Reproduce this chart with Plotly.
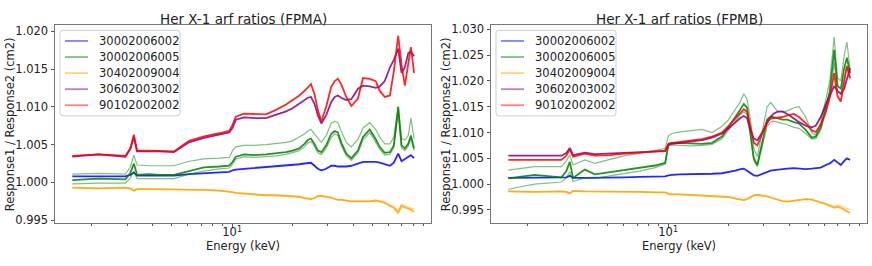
import plotly.graph_objects as go

ENERGY = [1.6, 2.16, 2.94, 3.11, 3.24, 3.36, 3.85, 4.32, 5.13, 6.10,
          7.24, 8.61, 9.66, 10.04, 10.43, 11.48, 12.88, 14.73, 16.53, 18.55,
          20.0, 21.6, 22.9, 23.8, 24.7, 25.7, 26.7, 27.8, 29.4, 31.1,
          32.4, 33.6, 34.9, 37.0, 39.2, 42.3, 44.8, 48.4, 51.9, 54.3,
          57.5, 61.0, 63.8, 67.1, 69.7, 72.4, 75.3, 77.6, 80.5]

OBSIDS = ["30002006002", "30002006005", "30402009004", "30602003002", "90102002002"]
COLORS = {"30002006002": (0, 0, 255), "30002006005": (0, 128, 0),
          "30402009004": (255, 165, 0), "30602003002": (128, 0, 128),
          "90102002002": (255, 0, 0)}

# ---------------- FPMA ----------------
A_BLUE = [1.0008, 1.0008, 1.0008, 1.0010, 1.0013, 1.0009, 1.0009, 1.0009, 1.0009, 1.0011,
          1.0012, 1.0013, 1.0014, 1.0016, 1.0017, 1.0018, 1.0019, 1.0020, 1.0021, 1.0022,
          1.0023, 1.0024, 1.0025, 1.0026, 1.0026, 1.0022, 1.0018, 1.0016, 1.0018, 1.0022,
          1.0022, 1.0021, 1.0021, 1.0021, 1.0022, 1.0025, 1.0027, 1.0027, 1.0027, 1.0026,
          1.0024, 1.0022, 1.0026, 1.0038, 1.0028, 1.0031, 1.0034, 1.0036, 1.0032]
A_ORANGE = [0.9993, 0.9992, 0.9993, 0.9992, 0.9989, 0.9991, 0.9991, 0.9991, 0.9991, 0.9991,
            0.9990, 0.9989, 0.9988, 0.9987, 0.9986, 0.9985, 0.9984, 0.9983, 0.9983, 0.9982,
            0.9982, 0.9981, 0.9979, 0.9978, 0.9978, 0.9979, 0.9982, 0.9982, 0.9981, 0.9980,
            0.9978, 0.9977, 0.9977, 0.9976, 0.9975, 0.9975, 0.9975, 0.9975, 0.9976, 0.9975,
            0.9973, 0.9969, 0.9966, 0.9960, 0.9969, 0.9967, 0.9965, 0.9964, 0.9961]
A_ORANGE_2 = [0.9993, 0.9992, 0.9993, 0.9992, 0.9989, 0.9991, 0.9991, 0.9991, 0.9991, 0.9991,
              0.9990, 0.9989, 0.9988, 0.9987, 0.9986, 0.9985, 0.9984, 0.9983, 0.9983, 0.9982,
              0.9982, 0.9981, 0.9979, 0.9978, 0.9978, 0.9979, 0.9982, 0.9982, 0.9981, 0.9980,
              0.9978, 0.9977, 0.9977, 0.9976, 0.9975, 0.9975, 0.9975, 0.9975, 0.9976, 0.9975,
              0.9974, 0.9970, 0.9968, 0.9963, 0.9971, 0.9969, 0.9967, 0.9966, 0.9965]
A_RED = [1.0035, 1.0037, 1.0035, 1.0045, 1.0063, 1.0042, 1.0042, 1.0042, 1.0041, 1.0055,
         1.0061, 1.0065, 1.0068, 1.0076, 1.0087, 1.0091, 1.0091, 1.0090, 1.0096, 1.0103,
         1.0109, 1.0115, 1.0121, 1.0126, 1.0130, 1.0117, 1.0096, 1.0081, 1.0100, 1.0126,
         1.0134, 1.0137, 1.0130, 1.0113, 1.0101, 1.0111, 1.0138, 1.0137, 1.0134, 1.0121,
         1.0113, 1.0115, 1.0147, 1.0194, 1.0156, 1.0128, 1.0160, 1.0179, 1.0145]
A_PURPLE = [1.0034, 1.0037, 1.0034, 1.0044, 1.0060, 1.0041, 1.0041, 1.0041, 1.0040, 1.0053,
            1.0059, 1.0063, 1.0066, 1.0072, 1.0083, 1.0086, 1.0085, 1.0085, 1.0089, 1.0094,
            1.0098, 1.0104, 1.0109, 1.0112, 1.0113, 1.0104, 1.0089, 1.0078, 1.0089, 1.0106,
            1.0113, 1.0115, 1.0112, 1.0109, 1.0110, 1.0124, 1.0128, 1.0127, 1.0125, 1.0127,
            1.0134, 1.0152, 1.0162, 1.0177, 1.0145, 1.0152, 1.0171, 1.0173, 1.0167]
A_GREEN = [1.0003, 1.0005, 1.0004, 1.0012, 1.0025, 1.0010, 1.0011, 1.0010, 1.0010, 1.0015,
           1.0020, 1.0021, 1.0022, 1.0027, 1.0034, 1.0037, 1.0036, 1.0037, 1.0038, 1.0040,
           1.0042, 1.0045, 1.0051, 1.0056, 1.0058, 1.0051, 1.0042, 1.0040, 1.0049, 1.0064,
           1.0068, 1.0066, 1.0053, 1.0038, 1.0032, 1.0042, 1.0060, 1.0070, 1.0057, 1.0047,
           1.0039, 1.0040, 1.0049, 1.0100, 1.0049, 1.0045, 1.0051, 1.0062, 1.0045]
A_GREEN_HI = [1.0011, 1.0012, 1.0011, 1.0020, 1.0036, 1.0023, 1.0022, 1.0022, 1.0022, 1.0028,
              1.0031, 1.0032, 1.0033, 1.0042, 1.0047, 1.0049, 1.0049, 1.0050, 1.0051, 1.0053,
              1.0055, 1.0060, 1.0064, 1.0068, 1.0070, 1.0064, 1.0058, 1.0053, 1.0062, 1.0078,
              1.0081, 1.0079, 1.0068, 1.0053, 1.0047, 1.0057, 1.0072, 1.0079, 1.0070, 1.0060,
              1.0051, 1.0051, 1.0060, 1.0100, 1.0058, 1.0056, 1.0062, 1.0085, 1.0058]
A_GREEN_LO = [0.9998, 0.9999, 0.9999, 1.0006, 1.0015, 1.0005, 1.0005, 1.0005, 1.0005, 1.0011,
              1.0015, 1.0018, 1.0019, 1.0024, 1.0031, 1.0034, 1.0033, 1.0034, 1.0035, 1.0037,
              1.0039, 1.0042, 1.0047, 1.0052, 1.0054, 1.0048, 1.0039, 1.0037, 1.0045, 1.0059,
              1.0064, 1.0062, 1.0049, 1.0035, 1.0029, 1.0039, 1.0056, 1.0066, 1.0053, 1.0044,
              1.0036, 1.0037, 1.0046, 1.0092, 1.0046, 1.0042, 1.0048, 1.0058, 1.0042]

# ---------------- FPMB ----------------
B_BLUE = [1.0012, 1.0012, 1.0012, 1.0013, 1.0016, 1.0012, 1.0012, 1.0012, 1.0013, 1.0013,
          1.0014, 1.0014, 1.0015, 1.0017, 1.0018, 1.0019, 1.0019, 1.0020, 1.0020, 1.0021,
          1.0023, 1.0026, 1.0029, 1.0030, 1.0026, 1.0021, 1.0017, 1.0016, 1.0020, 1.0024,
          1.0026, 1.0027, 1.0028, 1.0029, 1.0030, 1.0031, 1.0030, 1.0029, 1.0030, 1.0031,
          1.0032, 1.0037, 1.0040, 1.0047, 1.0042, 1.0037, 1.0045, 1.0050, 1.0047]
B_ORANGE = [0.9986, 0.9985, 0.9986, 0.9985, 0.9982, 0.9987, 0.9986, 0.9986, 0.9985, 0.9985,
            0.9985, 0.9984, 0.9984, 0.9981, 0.9980, 0.9980, 0.9979, 0.9979, 0.9978, 0.9976,
            0.9975, 0.9972, 0.9970, 0.9969, 0.9971, 0.9975, 0.9978, 0.9979, 0.9978, 0.9976,
            0.9974, 0.9972, 0.9970, 0.9967, 0.9966, 0.9968, 0.9970, 0.9971, 0.9970, 0.9968,
            0.9964, 0.9961, 0.9958, 0.9954, 0.9956, 0.9954, 0.9950, 0.9947, 0.9944]
B_ORANGE_2 = [0.9986, 0.9985, 0.9986, 0.9985, 0.9982, 0.9987, 0.9986, 0.9986, 0.9985, 0.9985,
              0.9985, 0.9984, 0.9984, 0.9981, 0.9980, 0.9980, 0.9979, 0.9979, 0.9978, 0.9976,
              0.9975, 0.9972, 0.9970, 0.9969, 0.9971, 0.9975, 0.9978, 0.9979, 0.9978, 0.9976,
              0.9974, 0.9972, 0.9970, 0.9967, 0.9966, 0.9968, 0.9970, 0.9971, 0.9970, 0.9968,
              0.9965, 0.9962, 0.9960, 0.9957, 0.9959, 0.9957, 0.9954, 0.9952, 0.9950]
B_RED = [1.0047, 1.0047, 1.0047, 1.0055, 1.0068, 1.0053, 1.0059, 1.0055, 1.0056, 1.0059,
         1.0061, 1.0063, 1.0065, 1.0078, 1.0080, 1.0082, 1.0084, 1.0087, 1.0092, 1.0100,
         1.0113, 1.0127, 1.0138, 1.0145, 1.0140, 1.0110, 1.0080, 1.0075, 1.0100, 1.0122,
         1.0127, 1.0128, 1.0128, 1.0130, 1.0133, 1.0136, 1.0130, 1.0118, 1.0104, 1.0101,
         1.0115, 1.0140, 1.0168, 1.0215, 1.0170, 1.0160, 1.0200, 1.0228, 1.0205]
B_PURPLE = [1.0055, 1.0055, 1.0055, 1.0060, 1.0070, 1.0056, 1.0061, 1.0058, 1.0059, 1.0061,
            1.0062, 1.0063, 1.0064, 1.0076, 1.0078, 1.0080, 1.0082, 1.0085, 1.0090, 1.0098,
            1.0108, 1.0120, 1.0128, 1.0132, 1.0128, 1.0105, 1.0088, 1.0085, 1.0100, 1.0118,
            1.0130, 1.0137, 1.0140, 1.0141, 1.0136, 1.0127, 1.0120, 1.0113, 1.0110, 1.0113,
            1.0130, 1.0155, 1.0170, 1.0190, 1.0180, 1.0175, 1.0185, 1.0205, 1.0225]
B_GREEN = [1.0011, 1.0018, 1.0013, 1.0025, 1.0043, 1.0012, 1.0028, 1.0019, 1.0023, 1.0027,
           1.0031, 1.0036, 1.0041, 1.0078, 1.0080, 1.0080, 1.0079, 1.0078, 1.0080, 1.0092,
           1.0110, 1.0130, 1.0145, 1.0155, 1.0148, 1.0100, 1.0050, 1.0037, 1.0080, 1.0125,
           1.0131, 1.0130, 1.0128, 1.0125, 1.0125, 1.0120, 1.0117, 1.0105, 1.0090, 1.0092,
           1.0110, 1.0150, 1.0180, 1.0260, 1.0190, 1.0185, 1.0225, 1.0245, 1.0215]
B_GREEN_HI = [1.0027, 1.0034, 1.0034, 1.0045, 1.0056, 1.0037, 1.0047, 1.0040, 1.0048, 1.0055,
              1.0060, 1.0065, 1.0069, 1.0094, 1.0098, 1.0101, 1.0103, 1.0106, 1.0100, 1.0112,
              1.0125, 1.0145, 1.0160, 1.0175, 1.0165, 1.0125, 1.0070, 1.0053, 1.0100, 1.0150,
              1.0158, 1.0150, 1.0142, 1.0140, 1.0142, 1.0148, 1.0150, 1.0130, 1.0100, 1.0095,
              1.0120, 1.0165, 1.0200, 1.0285, 1.0205, 1.0200, 1.0250, 1.0275, 1.0222]
B_GREEN_LO = [0.9990, 1.0000, 1.0004, 1.0012, 1.0024, 1.0005, 1.0012, 1.0011, 1.0016, 1.0020,
              1.0025, 1.0032, 1.0039, 1.0075, 1.0076, 1.0075, 1.0074, 1.0075, 1.0077, 1.0088,
              1.0105, 1.0122, 1.0135, 1.0140, 1.0135, 1.0090, 1.0045, 1.0034, 1.0072, 1.0112,
              1.0120, 1.0122, 1.0120, 1.0118, 1.0115, 1.0110, 1.0108, 1.0098, 1.0087, 1.0088,
              1.0105, 1.0140, 1.0170, 1.0235, 1.0180, 1.0175, 1.0210, 1.0230, 1.0205]

PANELS = [
    {"title": "Her X-1 arf ratios (FPMA)", "y_range": [0.99462, 1.02077],
     "y_ticks": [0.995, 1.000, 1.005, 1.010, 1.015, 1.020],
     "lines": [("30002006002", A_BLUE, 0.85, 1.8), ("30002006005", A_GREEN_HI, 0.5, 1.2),
               ("30002006005", A_GREEN_LO, 0.5, 1.2), ("30002006005", A_GREEN, 0.85, 1.8),
               ("30402009004", A_ORANGE_2, 0.5, 1.2), ("30402009004", A_ORANGE, 0.85, 1.8),
               ("30602003002", A_PURPLE, 0.85, 1.8), ("90102002002", A_RED, 0.85, 1.8)]},
    {"title": "Her X-1 arf ratios (FPMB)", "y_range": [0.99245, 1.03075],
     "y_ticks": [0.995, 1.000, 1.005, 1.010, 1.015, 1.020, 1.025, 1.030],
     "lines": [("30002006002", B_BLUE, 0.85, 1.8), ("30002006005", B_GREEN_HI, 0.5, 1.2),
               ("30002006005", B_GREEN_LO, 0.5, 1.2), ("30002006005", B_GREEN, 0.85, 1.8),
               ("30402009004", B_ORANGE_2, 0.5, 1.2), ("30402009004", B_ORANGE, 0.85, 1.8),
               ("30602003002", B_PURPLE, 0.85, 1.8), ("90102002002", B_RED, 0.85, 1.8)]},
]

for p in PANELS:
    for _, arr, _, _ in p["lines"]:
        assert len(arr) == len(ENERGY)

W, H = 872, 266
FONT = "DejaVu Sans"
X_DOMAINS = [[55 / W, 431 / W], [491 / W, 867 / W]]
Y_DOMAIN = [1 - 226 / H, 1 - 23 / H]
LEGEND_BOX_X = [60, 496]          # px, left edge of legend frame
YLABEL_X = [10 / W, 446 / W]
MINOR = [2, 3, 4, 5, 6, 7, 8, 9, 20, 30, 40, 50, 60, 70, 80, 90]


def rgba(c, a):
    return f"rgba({c[0]},{c[1]},{c[2]},{a})"


def px(x):
    return x / W


def py(y):
    return 1 - y / H


fig = go.Figure()
layout = dict(width=W, height=H, margin=dict(l=0, r=0, t=0, b=0, pad=0),
              paper_bgcolor="white", plot_bgcolor="white",
              font=dict(family=FONT, size=11.5, color="#222"), showlegend=False,
              annotations=[], shapes=[])

for i, p in enumerate(PANELS):
    sfx = "" if i == 0 else str(i + 1)
    xa, ya = "x" + sfx, "y" + sfx
    for name, arr, alpha, width in p["lines"]:
        fig.add_trace(go.Scatter(x=ENERGY, y=arr, mode="lines", xaxis=xa, yaxis=ya,
                                 name=name,
                                 line=dict(color=rgba(COLORS[name], alpha), width=width),
                                 hoverinfo="skip"))
    layout["xaxis" + sfx] = dict(
        domain=X_DOMAINS[i], anchor=ya, type="log", range=[0.118, 1.99],
        tickvals=[10], ticktext=["10<sup>1</sup>"], ticks="outside", ticklen=3.5,
        ticklabelstandoff=-5,
        tickcolor="#555", tickwidth=1, showgrid=False, zeroline=False,
        showline=True, linecolor="#777", linewidth=1, mirror=True,
        tickfont=dict(size=11.5, color="#222"),
        minor=dict(tickmode="array", tickvals=MINOR, ticks="outside", ticklen=2,
                   tickcolor="#555", tickwidth=0.8, showgrid=False))
    layout["yaxis" + sfx] = dict(
        domain=Y_DOMAIN, anchor=xa, range=p["y_range"], tickvals=p["y_ticks"],
        ticktext=[f"{v:.3f}" for v in p["y_ticks"]], ticks="outside", ticklen=3.5,
        tickcolor="#555", tickwidth=1, showgrid=False, zeroline=False,
        showline=True, linecolor="#777", linewidth=1, mirror=True,
        tickfont=dict(size=11.5, color="#222"))

    # legend frame (rounded)
    x0, x1, y0, y1, r = LEGEND_BOX_X[i], LEGEND_BOX_X[i] + 120, 28, 116, 3
    path = (f"M {px(x0 + r)},{py(y0)} L {px(x1 - r)},{py(y0)} "
            f"Q {px(x1)},{py(y0)} {px(x1)},{py(y0 + r)} L {px(x1)},{py(y1 - r)} "
            f"Q {px(x1)},{py(y1)} {px(x1 - r)},{py(y1)} L {px(x0 + r)},{py(y1)} "
            f"Q {px(x0)},{py(y1)} {px(x0)},{py(y1 - r)} L {px(x0)},{py(y0 + r)} "
            f"Q {px(x0)},{py(y0)} {px(x0 + r)},{py(y0)} Z")
    layout["shapes"].append(dict(type="path", path=path, xref="paper", yref="paper",
                                 fillcolor="rgba(255,255,255,0.8)",
                                 line=dict(color="#cccccc", width=1), layer="above"))
    for k, name in enumerate(OBSIDS):
        ly = 39 + k * 16.5
        layout["shapes"].append(dict(type="line", xref="paper", yref="paper",
                                     x0=px(x0 + 5), x1=px(x0 + 28), y0=py(ly), y1=py(ly),
                                     line=dict(color=rgba(COLORS[name], 0.5), width=1.8),
                                     layer="above"))
        layout["annotations"].append(dict(text=name, x=px(x0 + 37), y=py(ly), xref="paper",
                                          yref="paper", showarrow=False, xanchor="left",
                                          yanchor="middle", font=dict(size=11.5, color="#222")))

    cx = (X_DOMAINS[i][0] + X_DOMAINS[i][1]) / 2
    layout["annotations"] += [
        dict(text=p["title"], x=cx, y=py(16), xref="paper", yref="paper",
             showarrow=False, xanchor="center", yanchor="middle",
             font=dict(size=13.5, color="#222")),
        dict(text="Energy (keV)", x=cx, y=py(250), xref="paper", yref="paper",
             showarrow=False, xanchor="center", yanchor="middle",
             font=dict(size=11.5, color="#222")),
        dict(text="Response1 / Response2 (cm2)", x=YLABEL_X[i],
             y=(Y_DOMAIN[0] + Y_DOMAIN[1]) / 2, xref="paper", yref="paper",
             showarrow=False, xanchor="center", yanchor="middle", textangle=-90,
             font=dict(size=11.5, color="#222")),
    ]

fig.update_layout(**layout)
fig.write_html("out.html", config={"displayModeBar": False},
               post_script="document.body.style.margin='0';document.body.style.overflow='hidden';")
